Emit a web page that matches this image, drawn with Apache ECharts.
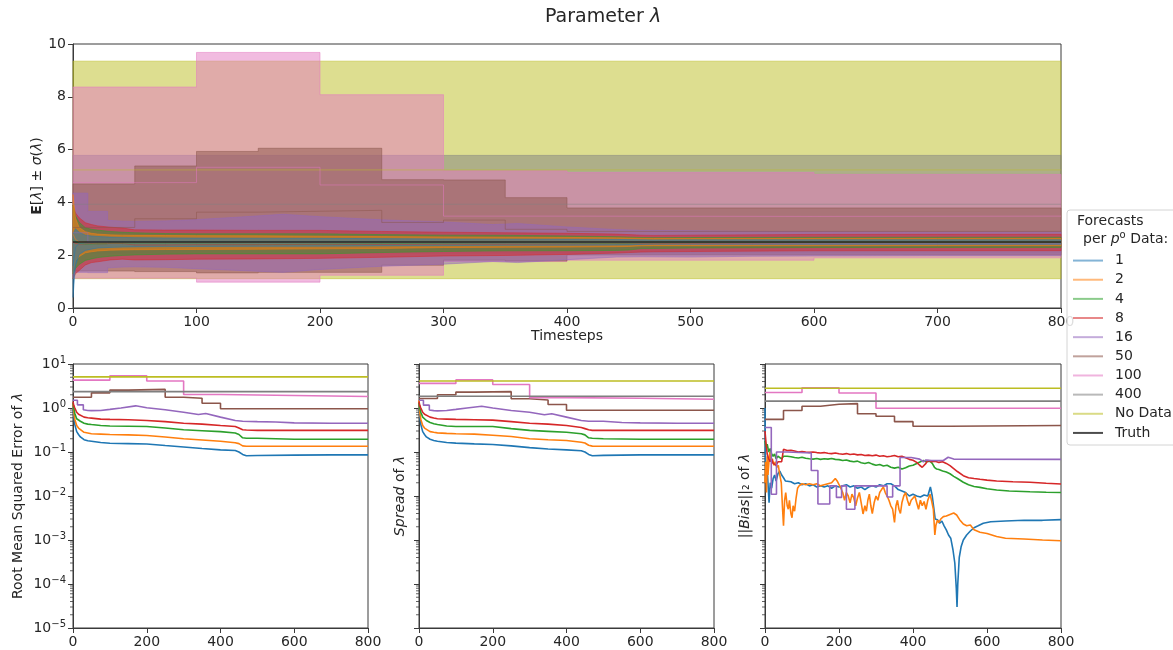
<!DOCTYPE html>
<html>
<head>
<meta charset="utf-8">
<script src="https://cdn.jsdelivr.net/npm/echarts@6/dist/echarts.min.js"></script>
<style>
  html, body { margin: 0; padding: 0; background: #fff; }
  #chart { width: 1173px; height: 650px; }
</style>
</head>
<body>
<div id="chart"></div>
<script>
// ---------------- data ----------------
const truth = 2.5;

// forecasts with 1, 2, 4 and 8 per observation share one timeline
const tSmooth = [0, 2, 5, 10, 15, 20, 30, 40, 50, 75, 100, 150, 200, 250, 300, 350, 400, 440, 450, 460, 470, 500, 600, 700, 800];

const mean1 = [1.6, 2.3, 2.45, 2.47, 2.48, 2.49, 2.49, 2.49, 2.49, 2.49, 2.49, 2.49, 2.49, 2.49, 2.49, 2.49, 2.49, 2.49, 2.49, 2.495, 2.497, 2.498, 2.497, 2.497, 2.497];
const sd1   = [1.2, 0.7, 0.42, 0.29, 0.25, 0.22, 0.195, 0.183, 0.175, 0.165, 0.159, 0.153, 0.148, 0.138, 0.126, 0.117, 0.112, 0.107, 0.1, 0.088, 0.082, 0.084, 0.086, 0.086, 0.086];
const rmse1 = [1.1, 0.7, 0.42, 0.29, 0.25, 0.22, 0.19, 0.18, 0.176, 0.165, 0.158, 0.155, 0.152, 0.14, 0.13, 0.12, 0.112, 0.108, 0.1, 0.088, 0.082, 0.083, 0.085, 0.086, 0.086];

const mean2 = [2.8, 2.6, 2.5, 2.49, 2.48, 2.48, 2.48, 2.48, 2.48, 2.48, 2.48, 2.48, 2.48, 2.48, 2.49, 2.49, 2.49, 2.49, 2.49, 2.497, 2.497, 2.496, 2.498, 2.499, 2.499];
const sd2   = [1.5, 0.8, 0.55, 0.4, 0.35, 0.32, 0.29, 0.28, 0.272, 0.265, 0.26, 0.255, 0.24, 0.225, 0.2, 0.19, 0.183, 0.167, 0.16, 0.142, 0.136, 0.135, 0.135, 0.135, 0.135];
const rmse2 = [1.2, 0.85, 0.55, 0.4, 0.35, 0.32, 0.28, 0.27, 0.26, 0.255, 0.25, 0.245, 0.237, 0.22, 0.2, 0.188, 0.176, 0.162, 0.155, 0.138, 0.135, 0.135, 0.135, 0.135, 0.135];

const mean4 = [2.6, 2.5, 2.45, 2.42, 2.42, 2.43, 2.43, 2.43, 2.43, 2.43, 2.43, 2.43, 2.43, 2.44, 2.45, 2.46, 2.45, 2.44, 2.44, 2.46, 2.46, 2.47, 2.485, 2.487, 2.488];
const sd4   = [1.3, 1.0, 0.8, 0.62, 0.56, 0.52, 0.47, 0.44, 0.42, 0.39, 0.38, 0.38, 0.38, 0.34, 0.31, 0.295, 0.28, 0.26, 0.245, 0.21, 0.205, 0.2, 0.195, 0.195, 0.195];
const rmse4 = [1.3, 1.0, 0.75, 0.57, 0.53, 0.5, 0.45, 0.43, 0.42, 0.4, 0.39, 0.385, 0.38, 0.35, 0.32, 0.305, 0.29, 0.27, 0.25, 0.21, 0.206, 0.205, 0.195, 0.195, 0.195];

const mean8 = [2.5, 2.45, 2.42, 2.43, 2.44, 2.43, 2.44, 2.44, 2.39, 2.39, 2.4, 2.4, 2.41, 2.41, 2.42, 2.42, 2.43, 2.44, 2.44, 2.44, 2.44, 2.45, 2.477, 2.48, 2.481];
const sd8   = [1.4, 1.15, 1.0, 0.8, 0.72, 0.68, 0.62, 0.59, 0.57, 0.56, 0.55, 0.54, 0.53, 0.49, 0.45, 0.43, 0.4, 0.36, 0.34, 0.32, 0.31, 0.31, 0.31, 0.31, 0.31];
const rmse8 = [1.4, 1.15, 1.0, 0.8, 0.72, 0.68, 0.62, 0.6, 0.59, 0.56, 0.55, 0.54, 0.52, 0.49, 0.45, 0.43, 0.4, 0.38, 0.35, 0.32, 0.315, 0.31, 0.31, 0.31, 0.31];

// 16 per observation (repeated times mark jumps)
const t16    = [0, 12, 12, 28, 28, 40, 50, 75, 100, 130, 170, 200, 250, 300, 340, 360, 400, 440, 460, 500, 550, 600, 700, 800];
const mean16 = [2.85, 2.85, 2.5, 2.5, 2.42, 2.42, 2.42, 2.42, 2.42, 2.43, 2.45, 2.46, 2.46, 2.46, 2.46, 2.46, 2.45, 2.45, 2.44, 2.43, 2.43, 2.43, 2.43, 2.43];
const sd16   = [1.5, 1.5, 1.16, 1.16, 0.9, 0.87, 0.86, 0.88, 0.93, 1.0, 1.1, 1.0, 0.88, 0.8, 0.7, 0.74, 0.62, 0.52, 0.5, 0.5, 0.47, 0.46, 0.45, 0.45];
const rmse16 = [1.5, 1.5, 1.18, 1.18, 0.91, 0.88, 0.87, 0.88, 0.93, 1.0, 1.12, 1.01, 0.91, 0.8, 0.71, 0.75, 0.62, 0.52, 0.5, 0.49, 0.48, 0.46, 0.45, 0.45];

// 50 per observation
const t50    = [0, 50, 50, 100, 100, 150, 150, 250, 250, 300, 300, 350, 350, 400, 400, 800];
const mean50 = [3.05, 3.05, 3.38, 3.38, 3.63, 3.63, 3.7, 3.7, 3.24, 3.24, 3.33, 3.33, 2.98, 2.98, 2.9, 2.9];
const sd50   = [1.65, 1.65, 2.0, 2.0, 2.3, 2.3, 2.35, 2.35, 1.62, 1.62, 1.52, 1.52, 1.2, 1.2, 0.89, 0.89];
const rmse50 = [1.76, 1.76, 2.21, 2.21, 2.55, 2.55, 2.65, 2.65, 1.76, 1.76, 1.67, 1.67, 1.28, 1.28, 0.96, 0.96];

// 100 per observation
const t100    = [0, 100, 100, 200, 200, 300, 300, 400, 400, 600, 600, 800];
const mean100 = [4.75, 4.75, 5.33, 5.33, 4.66, 4.66, 3.48, 3.48, 3.47, 3.47, 3.48, 3.48];
const sd100   = [3.62, 3.62, 4.35, 4.35, 3.42, 3.42, 1.72, 1.72, 1.66, 1.66, 1.58, 1.58];
const rmse100 = [4.3, 4.3, 5.4, 5.4, 4.1, 4.1, 2.03, 2.03, 1.92, 1.92, 1.83, 1.83];

// 400 per observation and no data at all
const t400 = [0, 800];
const mean400 = [3.93, 3.93];
const sd400 = [1.85, 1.85];
const rmse400 = [2.35, 2.35];

const tNoData = [0, 800];
const meanNoData = [5.23, 5.23];
const sdNoData = [4.12, 4.12];
const rmseNoData = [5.1, 5.1];

// ||bias||_2 as [timestep, value]
const bias1 = [[0,1.0],[1,0.1],[2,0.03],[5,0.06],[8,0.02],[11,0.007],[14,0.02],[18,0.015],[22,0.025],[26,0.03],[30,0.022],[35,0.032],[40,0.037],[45,0.03],[50,0.026],[55,0.022],[60,0.02],[70,0.021],[80,0.019],[90,0.02],[100,0.018],[110,0.019],[120,0.017],[130,0.018],[140,0.016],[150,0.017],[160,0.016],[170,0.017],[180,0.015],[190,0.017],[200,0.016],[210,0.017],[220,0.018],[230,0.016],[240,0.017],[250,0.015],[260,0.016],[270,0.014],[280,0.016],[290,0.017],[300,0.016],[310,0.018],[320,0.017],[330,0.019],[340,0.019],[350,0.017],[360,0.014],[370,0.013],[380,0.012],[390,0.01],[400,0.011],[410,0.01],[420,0.0095],[430,0.0105],[440,0.01],[447,0.016],[452,0.01],[456,0.0055],[460,0.003],[466,0.0029],[472,0.0024],[478,0.0027],[484,0.0021],[490,0.0017],[496,0.0013],[502,0.0011],[508,0.0006],[513,0.0003],[517,0.00008],[519,0.00003],[521,0.0001],[525,0.0004],[530,0.0007],[536,0.001],[545,0.0013],[555,0.0016],[565,0.0019],[576,0.0021],[590,0.0024],[610,0.0026],[650,0.0027],[700,0.0028],[750,0.0028],[800,0.0029]];

const bias2 = [[0,0.02],[2,0.06],[4,0.012],[6,0.08],[8,0.03],[10,0.05],[13,0.1],[16,0.06],[20,0.07],[24,0.05],[28,0.06],[32,0.045],[36,0.05],[40,0.03],[44,0.02],[47,0.006],[50,0.0021],[53,0.008],[56,0.012],[60,0.006],[63,0.005],[66,0.008],[70,0.004],[73,0.0032],[76,0.006],[80,0.0045],[84,0.009],[88,0.015],[92,0.017],[100,0.019],[110,0.018],[120,0.019],[130,0.018],[140,0.019],[150,0.017],[160,0.018],[170,0.019],[180,0.02],[185,0.022],[190,0.025],[195,0.022],[200,0.02],[205,0.015],[210,0.012],[215,0.008],[220,0.012],[225,0.01],[230,0.007],[235,0.011],[240,0.009],[245,0.006],[250,0.009],[255,0.012],[260,0.007],[265,0.0039],[270,0.006],[274,0.0045],[278,0.008],[282,0.011],[286,0.006],[290,0.004],[295,0.007],[300,0.01],[305,0.008],[310,0.012],[315,0.014],[320,0.016],[325,0.012],[330,0.01],[335,0.008],[340,0.006],[345,0.005],[350,0.0025],[354,0.006],[358,0.008],[362,0.005],[366,0.004],[370,0.007],[375,0.01],[380,0.012],[385,0.008],[390,0.006],[395,0.008],[400,0.0085],[405,0.01],[410,0.007],[415,0.005],[420,0.008],[425,0.006],[430,0.0075],[435,0.005],[440,0.008],[446,0.011],[450,0.008],[455,0.005],[459,0.0013],[462,0.0022],[466,0.0028],[470,0.0025],[475,0.003],[482,0.0034],[490,0.0035],[500,0.0038],[510,0.0041],[518,0.0037],[526,0.0029],[536,0.0023],[545,0.0021],[555,0.0022],[565,0.0017],[581,0.0015],[600,0.0014],[626,0.0012],[650,0.0011],[700,0.00105],[750,0.001],[800,0.00096]];

const bias4 = [[0,0.18],[3,0.13],[6,0.15],[10,0.1],[14,0.12],[18,0.09],[22,0.08],[26,0.09],[30,0.07],[35,0.08],[40,0.075],[45,0.07],[50,0.08],[55,0.085],[60,0.08],[70,0.078],[80,0.075],[90,0.073],[100,0.076],[110,0.072],[120,0.07],[130,0.069],[140,0.071],[150,0.068],[160,0.07],[170,0.069],[180,0.071],[190,0.068],[200,0.067],[210,0.064],[220,0.066],[230,0.062],[240,0.06],[250,0.062],[260,0.057],[270,0.055],[280,0.058],[290,0.053],[300,0.05],[310,0.052],[320,0.048],[330,0.05],[340,0.045],[350,0.043],[360,0.045],[370,0.041],[380,0.044],[390,0.048],[400,0.05],[410,0.055],[420,0.06],[428,0.064],[435,0.06],[440,0.058],[446,0.062],[452,0.055],[458,0.045],[464,0.041],[470,0.04],[480,0.037],[490,0.035],[500,0.032],[510,0.028],[520,0.025],[536,0.0205],[550,0.018],[565,0.0165],[581,0.0157],[600,0.0146],[626,0.0137],[660,0.013],[716,0.0125],[760,0.0122],[800,0.012]];

const bias8 = [[0,0.3],[3,0.15],[6,0.09],[10,0.07],[14,0.06],[18,0.07],[22,0.055],[26,0.06],[30,0.05],[35,0.06],[40,0.055],[45,0.06],[48,0.09],[50,0.115],[55,0.11],[60,0.108],[70,0.11],[80,0.105],[90,0.1],[100,0.103],[110,0.1],[120,0.098],[130,0.1],[140,0.097],[150,0.095],[160,0.097],[170,0.094],[180,0.092],[190,0.095],[200,0.091],[210,0.089],[220,0.092],[230,0.088],[240,0.09],[250,0.086],[260,0.088],[270,0.083],[280,0.085],[290,0.082],[300,0.085],[310,0.08],[320,0.082],[330,0.078],[340,0.08],[350,0.083],[360,0.078],[370,0.08],[380,0.074],[390,0.068],[400,0.065],[410,0.058],[418,0.05],[425,0.045],[430,0.041],[435,0.055],[440,0.064],[450,0.06],[460,0.062],[470,0.058],[480,0.06],[490,0.055],[500,0.049],[510,0.042],[520,0.036],[536,0.029],[550,0.026],[565,0.025],[581,0.024],[600,0.023],[626,0.022],[670,0.021],[716,0.0205],[760,0.0195],[800,0.0187]];

const bias16 = [[0,0.36],[17,0.36],[17,0.011],[31,0.011],[31,0.1],[60,0.1],[60,0.095],[125,0.095],[125,0.038],[143,0.038],[143,0.0066],[175,0.0066],[175,0.017],[193,0.017],[193,0.0093],[207,0.0093],[207,0.017],[220,0.017],[220,0.005],[243,0.005],[243,0.017],[330,0.017],[330,0.0095],[345,0.0095],[345,0.017],[365,0.017],[365,0.075],[395,0.075],[395,0.07],[418,0.069],[428,0.06],[435,0.066],[440,0.072],[450,0.064],[482,0.064],[495,0.076],[510,0.069],[800,0.068]];

const bias50 = [[0,0.55],[50,0.55],[50,0.88],[100,0.88],[100,1.1],[150,1.1],[150,1.22],[200,1.22],[200,1.26],[250,1.26],[250,0.74],[300,0.74],[300,0.65],[350,0.65],[350,0.49],[400,0.49],[400,0.385],[500,0.385],[500,0.4],[800,0.4]];
const bias100 = [[0,2.25],[100,2.25],[100,2.88],[200,2.88],[200,2.2],[300,2.2],[300,0.99],[800,0.99]];
const bias400 = [[0,1.43],[800,1.43]];
const biasNoData = [[0,2.82],[800,2.82]];

const legendNames = ['1', '2', '4', '8', '16', '50', '100', '400', 'No Data', 'Truth'];

// ---------------- styling ----------------
const FONT = 'DejaVu Sans';
const INK = '#262626';
const AXIS = '#3a3a3a';

const runs = [
  { name: '1',       color: '#1f77b4', t: tSmooth, mean: mean1,      sd: sd1,      rmse: rmse1,      bias: bias1 },
  { name: '2',       color: '#ff7f0e', t: tSmooth, mean: mean2,      sd: sd2,      rmse: rmse2,      bias: bias2 },
  { name: '4',       color: '#2ca02c', t: tSmooth, mean: mean4,      sd: sd4,      rmse: rmse4,      bias: bias4 },
  { name: '8',       color: '#d62728', t: tSmooth, mean: mean8,      sd: sd8,      rmse: rmse8,      bias: bias8 },
  { name: '16',      color: '#9467bd', t: t16,     mean: mean16,     sd: sd16,     rmse: rmse16,     bias: bias16 },
  { name: '50',      color: '#8c564b', t: t50,     mean: mean50,     sd: sd50,     rmse: rmse50,     bias: bias50 },
  { name: '100',     color: '#e377c2', t: t100,    mean: mean100,    sd: sd100,    rmse: rmse100,    bias: bias100 },
  { name: '400',     color: '#7f7f7f', t: t400,    mean: mean400,    sd: sd400,    rmse: rmse400,    bias: bias400 },
  { name: 'No Data', color: '#bcbd22', t: tNoData, mean: meanNoData, sd: sdNoData, rmse: rmseNoData, bias: biasNoData }
];

function hexToRgba(hex, a) {
  const n = parseInt(hex.slice(1), 16);
  return 'rgba(' + (n >> 16) + ',' + ((n >> 8) & 255) + ',' + (n & 255) + ',' + a + ')';
}

function pairs(t, v) { return t.map((x, i) => [x, v[i]]); }

// mean ± sd band as one filled polygon, placed with the axis scales
function bandSeries(run) {
  const upper = run.t.map((x, i) => [x, run.mean[i] + run.sd[i]]);
  const lower = run.t.map((x, i) => [x, run.mean[i] - run.sd[i]]);
  const ring = upper.concat(lower.slice().reverse());
  return {
    type: 'custom', name: run.name, xAxisIndex: 0, yAxisIndex: 0,
    silent: true, data: ring,
    renderItem: function (params, api) {
      if (params.dataIndex !== 0) return null;
      return {
        type: 'polygon',
        shape: { points: ring.map(p => api.coord(p)) },
        style: { fill: run.color, stroke: run.color, lineWidth: 1, opacity: 0.5 }
      };
    }
  };
}

function lineSeries(name, color, data, idx, width, opacity) {
  return {
    type: 'line', name: name, xAxisIndex: idx, yAxisIndex: idx,
    data: data, showSymbol: false, symbol: 'none', silent: true,
    lineStyle: { color: color, width: width, opacity: opacity },
    itemStyle: { color: color }
  };
}

// minor ticks of the log axes (2..9 per decade)
const minorTicks = [];
for (let e = -5; e <= 0; e++) for (let m = 2; m <= 9; m++) minorTicks.push(m * Math.pow(10, e));

function minorTickSeries(idx) {
  return {
    type: 'custom', xAxisIndex: idx, yAxisIndex: idx, silent: true, clip: false,
    data: minorTicks.map(v => [0, v]),
    renderItem: function (params, api) {
      const p = api.coord([0, api.value(1)]);
      return {
        type: 'line',
        shape: { x1: p[0] - 3, y1: p[1], x2: p[0], y2: p[1] },
        style: { stroke: AXIS, lineWidth: 0.8 }
      };
    }
  };
}

const series = [];
runs.slice().reverse().forEach(r => {
  series.push(bandSeries(r));
  series.push(lineSeries(r.name, r.color, pairs(r.t, r.mean), 0, 1, 0.5));
});
series.push(lineSeries('Truth', '#000000', [[0, truth], [800, truth]], 0, 1.2, 1));
runs.forEach(r => series.push(lineSeries(r.name, r.color, pairs(r.t, r.rmse), 1, 1.6, 1)));
runs.forEach(r => series.push(lineSeries(r.name, r.color, pairs(r.t, r.sd), 2, 1.6, 1)));
runs.forEach(r => series.push(lineSeries(r.name, r.color, r.bias, 3, 1.6, 1)));
[1, 2, 3].forEach(i => series.push(minorTickSeries(i)));

const tickFont = { color: INK, fontSize: 14, fontFamily: FONT };
const nameFont = {
  color: INK, fontSize: 14, fontFamily: FONT,
  rich: {
    i: { fontStyle: 'italic', fontSize: 14, fontFamily: FONT, color: INK },
    b: { fontWeight: 'bold', fontSize: 14, fontFamily: FONT, color: INK }
  }
};

function xAxisFor(idx, interval, extra) {
  return Object.assign({
    gridIndex: idx, type: 'value', min: 0, max: 800, interval: interval,
    axisLine: { onZero: false, lineStyle: { color: AXIS, width: 1 } },
    axisTick: { length: 5, lineStyle: { color: AXIS } },
    axisLabel: Object.assign({ margin: 7 }, tickFont),
    splitLine: { show: false }
  }, extra || {});
}

function logAxis(idx, labels, extra) {
  return Object.assign({
    gridIndex: idx, type: 'log', logBase: 10, min: 1e-5, max: 10, splitNumber: 6,
    nameMoveOverlap: false,
    axisLine: { lineStyle: { color: AXIS, width: 1 } },
    axisTick: { length: 5, lineStyle: { color: AXIS } },
    axisLabel: Object.assign({
      show: labels, margin: 7,
      formatter: function (v) {
        const e = Math.round(Math.log10(v));
        return '10{sup|' + (e < 0 ? '\u2212' + (-e) : e) + '}';
      },
      rich: { sup: { fontSize: 10, fontFamily: FONT, color: INK, padding: [0, 0, 8, 0] } }
    }, tickFont),
    splitLine: { show: false },
    minorTick: { show: false }
  }, extra || {});
}

const option = {
  animation: false,
  backgroundColor: '#ffffff',
  title: {
    text: 'Parameter {i|λ}', left: 540, top: 3,
    textStyle: {
      fontFamily: FONT, fontSize: 19, fontWeight: 'normal', color: INK,
      rich: { i: { fontStyle: 'italic', fontFamily: FONT, fontSize: 19, color: INK } }
    }
  },
  grid: [
    { left: 73, top: 44, width: 988, height: 264, show: true, borderColor: AXIS, borderWidth: 1, backgroundColor: 'transparent' },
    { left: 73, top: 364, width: 295, height: 264, show: true, borderColor: AXIS, borderWidth: 1, backgroundColor: 'transparent' },
    { left: 419, top: 364, width: 295, height: 264, show: true, borderColor: AXIS, borderWidth: 1, backgroundColor: 'transparent' },
    { left: 765, top: 364, width: 296, height: 264, show: true, borderColor: AXIS, borderWidth: 1, backgroundColor: 'transparent' }
  ],
  xAxis: [
    xAxisFor(0, 100, { name: 'Timesteps', nameLocation: 'middle', nameGap: 21, nameMoveOverlap: false, nameTextStyle: nameFont }),
    xAxisFor(1, 200), xAxisFor(2, 200), xAxisFor(3, 200)
  ],
  yAxis: [
    {
      gridIndex: 0, type: 'value', min: 0, max: 10, interval: 2,
      name: '{b|E}[{i|λ}] ± {i|σ}({i|λ})', nameLocation: 'middle', nameRotate: 90, nameGap: 29,
      nameMoveOverlap: false,
      nameTextStyle: nameFont,
      axisLine: { lineStyle: { color: AXIS, width: 1 } },
      axisTick: { length: 5, lineStyle: { color: AXIS } },
      axisLabel: Object.assign({ margin: 7 }, tickFont),
      splitLine: { show: false }
    },
    logAxis(1, true, { name: 'Root Mean Squared Error of {i|λ}', nameLocation: 'middle', nameRotate: 90, nameGap: 48, nameTextStyle: nameFont }),
    logAxis(2, false, { name: '{i|Spread} of {i|λ}', nameLocation: 'middle', nameRotate: 90, nameGap: 12, nameTextStyle: nameFont }),
    logAxis(3, false, { name: '||{i|Bias}||\u2082 of {i|λ}', nameLocation: 'middle', nameRotate: 90, nameGap: 13, nameTextStyle: nameFont })
  ],
  legend: {
    orient: 'vertical', left: 1068, top: 246, z: 20,
    itemWidth: 30, itemHeight: 2, itemGap: 0, icon: 'rect', selectedMode: false,
    textStyle: { fontFamily: FONT, fontSize: 14, color: INK, lineHeight: 19.15, padding: [0, 0, 0, 7] },
    data: legendNames.map((n, i) => ({
      name: n,
      itemStyle: { color: i < runs.length ? hexToRgba(runs[i].color, 0.55) : 'rgba(0,0,0,0.7)' }
    }))
  },
  graphic: [
    {
      type: 'rect', z: 15, silent: true,
      shape: { x: 1067, y: 210, width: 125, height: 235, r: 3 },
      style: { fill: 'rgba(255,255,255,0.85)', stroke: '#d4d4d4', lineWidth: 1 }
    },
    {
      type: 'text', z: 16, silent: true, left: 1077, top: 214,
      style: { text: 'Forecasts', font: '14px "DejaVu Sans"', fill: INK }
    },
    {
      type: 'text', z: 16, silent: true, left: 1083, top: 230,
      style: {
        text: 'per {i|p}{sup|o} Data:', font: '14px "DejaVu Sans"', fill: INK,
        rich: {
          i: { fontStyle: 'italic', fontSize: 14, fontFamily: FONT, fill: INK },
          sup: { fontSize: 10, fontFamily: FONT, fill: INK, padding: [0, 0, 8, 0] }
        }
      }
    }
  ],
  series: series
};

const chart = echarts.init(document.getElementById('chart'), null, { renderer: 'canvas' });
chart.setOption(option);
</script>
</body>
</html>
